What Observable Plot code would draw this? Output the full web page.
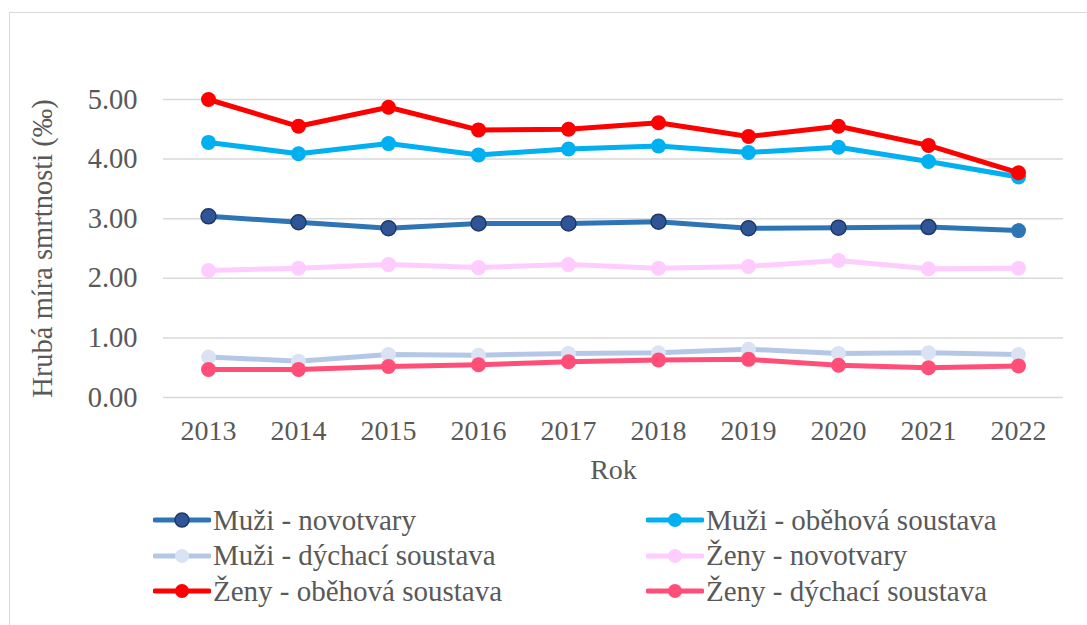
<!DOCTYPE html>
<html>
<head>
<meta charset="utf-8">
<script src="https://cdn.jsdelivr.net/npm/d3@7"></script>
<script src="https://cdn.jsdelivr.net/npm/@observablehq/plot@0.6"></script>
<style>
  html, body { margin: 0; padding: 0; background: #fff; overflow: hidden; }
  #wrap { position: relative; width: 1087px; height: 625px; overflow: hidden; font-family: "Liberation Serif", "Times New Roman", Tinos, serif; color: #595959; }
  #frame { position: absolute; left: 9px; top: 12px; width: 1100px; height: 640px; border: 1.5px solid #d9d9d9; box-sizing: border-box; }
  #chart { position: absolute; left: 0; top: 0; }
  #legend { position: absolute; left: 0; top: 502px; width: 1087px; }
  .item { position: absolute; display: flex; align-items: center; height: 36px; font-size: 29px; white-space: nowrap; }
  .item svg { margin-right: 2px; flex: none; }
</style>
</head>
<body>
<div id="wrap">
  <div id="frame"></div>
  <div id="chart"></div>
  <div id="legend"></div>
</div>
<script>
const years = [2013, 2014, 2015, 2016, 2017, 2018, 2019, 2020, 2021, 2022];
const seriesNames = [
  "Muži - novotvary",
  "Muži - oběhová soustava",
  "Muži - dýchací soustava",
  "Ženy - novotvary",
  "Ženy - oběhová soustava",
  "Ženy - dýchací soustava"
];
const muziNovotvary = [3.04, 2.94, 2.84, 2.92, 2.92, 2.95, 2.84, 2.85, 2.86, 2.80];
const muziObehova   = [4.28, 4.09, 4.26, 4.07, 4.17, 4.22, 4.11, 4.20, 3.96, 3.70];
const muziDychaci   = [0.68, 0.61, 0.72, 0.71, 0.74, 0.75, 0.81, 0.74, 0.75, 0.72];
const zenyNovotvary = [2.13, 2.17, 2.23, 2.18, 2.23, 2.17, 2.20, 2.30, 2.16, 2.17];
const zenyObehova   = [5.00, 4.55, 4.87, 4.49, 4.50, 4.61, 4.38, 4.55, 4.23, 3.77];
const zenyDychaci   = [0.47, 0.47, 0.52, 0.55, 0.60, 0.63, 0.64, 0.54, 0.50, 0.53];
const yTicks = [0, 1, 2, 3, 4, 5];

const FONT = '"Liberation Serif", "Times New Roman", Tinos, serif';

const seriesValues = [muziNovotvary, muziObehova, muziDychaci, zenyNovotvary, zenyObehova, zenyDychaci];
const lineColors   = ["#2E75B6", "#00B0F0", "#B4C7E7", "#FFCCFF", "#FF0000", "#FF4F79"];
const markerFills  = ["#2F5597", "#00B0F0", "#DAE3F3", "#FFCCFF", "#FF0000", "#FF4F79"];
const markerStroke = ["#1F3864", null, null, null, null, null];

const data = [];
seriesNames.forEach((s, i) => seriesValues[i].forEach((v, j) => data.push({series: s, si: i, year: years[j], value: v, last: j === years.length - 1})));

const seriesMarks = [];
seriesNames.forEach((s, i) => {
  const rows = data.filter(d => d.series === s);
  seriesMarks.push(Plot.line(rows, {x: "year", y: "value", stroke: lineColors[i], strokeWidth: 5, strokeLinejoin: "round", strokeLinecap: "round"}));
  if (markerStroke[i]) {
    seriesMarks.push(Plot.dot(rows.filter(d => !d.last), {x: "year", y: "value", r: 7.5, fill: markerFills[i], stroke: markerStroke[i], strokeWidth: 1.5}));
    seriesMarks.push(Plot.dot(rows.filter(d => d.last), {x: "year", y: "value", r: 7.5, fill: lineColors[i], stroke: "none"}));
  } else {
    seriesMarks.push(Plot.dot(rows, {x: "year", y: "value", r: 7.5, fill: markerFills[i], stroke: "none"}));
  }
});

const chart = Plot.plot({
  width: 1087,
  height: 495,
  marginLeft: 163,
  marginRight: 24,
  marginTop: 99,
  marginBottom: 98,
  style: {fontFamily: FONT, fontSize: "28px", color: "#595959", background: "transparent", overflow: "visible"},
  x: {type: "point", domain: years, padding: 0.5},
  y: {domain: [0, 5]},
  marks: [
    Plot.gridY(yTicks, {stroke: "#d9d9d9", strokeOpacity: 1, strokeWidth: 1.5}),
    Plot.axisY(yTicks, {tickSize: 0, tickPadding: 26, tickFormat: d3.format(".2f"), label: "Hrubá míra smrtnosti (‰)", labelArrow: "none", labelAnchor: "center", labelOffset: 132, fill: "#595959", fontSize: 28.5, fontFamily: FONT}),
    Plot.axisX(years, {tickSize: 0, tickPadding: 23, tickFormat: d => String(d), label: "Rok", labelArrow: "none", labelAnchor: "center", labelOffset: 81, fill: "#595959", fontSize: 28, fontFamily: FONT}),
    ...seriesMarks
  ]
});
document.getElementById("chart").appendChild(chart);

// Legend (HTML, below the plot area)
const legend = document.getElementById("legend");
const colX = [153, 646];
seriesNames.forEach((s, i) => {
  const col = i % 2, row = Math.floor(i / 2);
  const item = document.createElement("div");
  item.className = "item";
  item.style.left = colX[col] + "px";
  item.style.top = (row * 35.5) + "px";
  const ns = "http://www.w3.org/2000/svg";
  const svg = document.createElementNS(ns, "svg");
  svg.setAttribute("width", 58); svg.setAttribute("height", 20);
  const ln = document.createElementNS(ns, "line");
  ln.setAttribute("x1", 2); ln.setAttribute("x2", 56); ln.setAttribute("y1", 10); ln.setAttribute("y2", 10);
  ln.setAttribute("stroke", lineColors[i]); ln.setAttribute("stroke-width", 5); ln.setAttribute("stroke-linecap", "round");
  const c = document.createElementNS(ns, "circle");
  c.setAttribute("cx", 29); c.setAttribute("cy", 10); c.setAttribute("r", 7);
  c.setAttribute("fill", markerFills[i]);
  if (markerStroke[i]) { c.setAttribute("stroke", markerStroke[i]); c.setAttribute("stroke-width", 1.5); }
  svg.appendChild(ln); svg.appendChild(c);
  const t = document.createElement("span");
  t.textContent = s;
  item.appendChild(svg); item.appendChild(t);
  legend.appendChild(item);
});
</script>
</body>
</html>
